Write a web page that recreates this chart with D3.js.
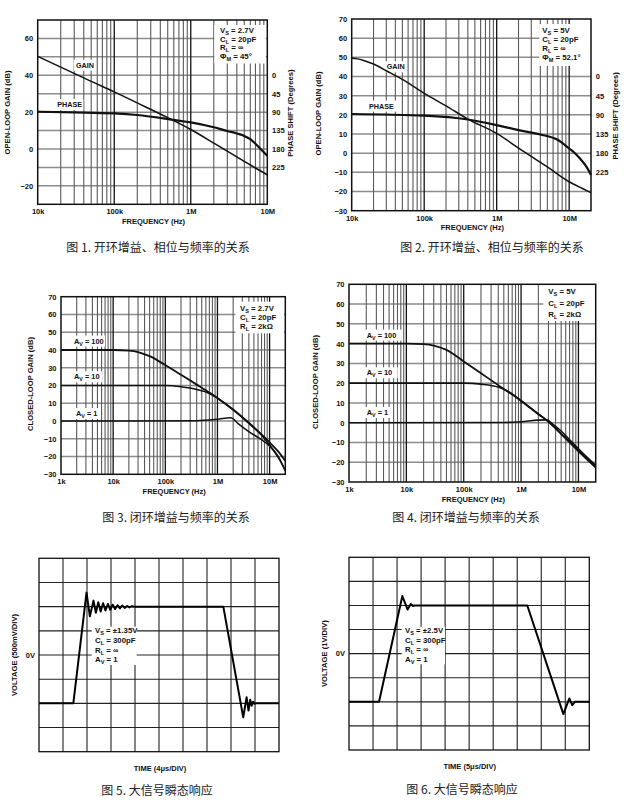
<!DOCTYPE html>
<html><head><meta charset="utf-8">
<script src="https://cdn.jsdelivr.net/npm/d3@7"></script>
<style>body{margin:0;background:#fff}svg{display:block}</style>
</head><body><svg id="c" width="624" height="800"></svg>
<script>
// ---------- DATA ----------
const freqTicks12 = [1e4, 1e5, 1e6, 1e7];
const freqLabels12 = ["10k", "100k", "1M", "10M"];
const freqTicks34 = [1e3, 1e4, 1e5, 1e6, 1e7];
const freqLabels34 = ["1k", "10k", "100k", "1M", "10M"];
const gainTicks1 = [60, 40, 20, 0, -20];
const gainTicksFull = [70, 60, 50, 40, 30, 20, 10, 0, -10, -20, -30];
const phaseTicks = [0, 45, 90, 135, 180, 225];

const fig1Freq = [1e4, 2e4, 5e4, 1e5, 2e5, 5e5, 1e6, 2e6, 3e6, 5e6, 7e6, 1e7];
const fig1Gain = [50.3, 44.4, 36.7, 31.0, 25.0, 17.0, 10.6, 3.2, -1.2, -6.7, -10.3, -14.0];
const fig1PhaseFreq = [1e4, 3e4, 1e5, 2e5, 4e5, 6e5, 1e6, 2e6, 3e6, 4e6, 5e6, 6e6, 7e6, 8e6, 9e6, 1e7];
const fig1Phase = [89, 90.5, 93, 97, 104, 109, 115, 127, 136, 142, 148, 156, 167, 178, 188, 197];

const fig2Freq = [1e4, 1.2e4, 1.5e4, 2e4, 3e4, 5e4, 1e5, 2e5, 4e5, 1e6, 2e6, 3e6, 5e6, 1e7, 1.5e7, 2e7];
const fig2Gain = [49.5, 49.2, 48.2, 46.5, 43, 38.5, 31.2, 24.7, 17.8, 10.3, 2.7, -1.7, -7.2, -14.9, -18.3, -20.6];
const fig2PhaseFreq = [1e4, 1e5, 4e5, 1e6, 2e6, 4e6, 7e6, 1e7, 1.2e7, 1.4e7, 1.7e7, 2e7];
const fig2Phase = [88, 92, 101, 114, 126, 136, 149, 169, 180, 192, 210, 231];

const fig3Freq = [1e3, 1e4, 2e4, 3e4, 5e4, 1e5, 2e5, 4e5, 7e5, 1e6, 2e6, 4e6, 7e6, 1e7, 1.5e7, 2e7];
const fig3Av100 = [40, 40, 39.6, 38.8, 36.5, 31.5, 26, 20.5, 16, 13, 6.5, -1, -7.5, -12, -17.5, -22.5];
const fig3Av10Freq = [1e3, 1e5, 2e5, 4e5, 7e5, 1e6, 2e6, 4e6, 7e6, 1e7, 1.5e7, 2e7];
const fig3Av10 = [20, 20, 19.3, 17.8, 15.5, 12.8, 6.2, -1.3, -8, -13.5, -20.5, -28];
const fig3Av1Freq = [1e3, 4e5, 1e6, 1.8e6, 2.5e6, 4e6, 7e6, 1e7, 1.5e7, 2e7];
const fig3Av1 = [0, 0.2, 1, 1.8, -1.5, -6, -10.5, -14, -21, -28];

const fig4Freq = [1e3, 1e4, 2e4, 3e4, 5e4, 1e5, 2e5, 4e5, 7e5, 1e6, 2e6, 3e6, 5e6, 7e6, 1e7, 2e7];
const fig4Av100 = [40, 40, 39.7, 39, 36.8, 31, 25, 19, 14.2, 11, 4.3, 0.5, -5.5, -9.5, -14, -22.3];
const fig4Av10Freq = [1e3, 1e5, 2e5, 4e5, 7e5, 1e6, 2e6, 3e6, 5e6, 7e6, 1e7, 2e7];
const fig4Av10 = [20, 20, 19.5, 18, 14.6, 11.2, 4.5, 0.6, -5.8, -10, -14.6, -22.7];
const fig4Av1Freq = [1e3, 5e5, 1e6, 2e6, 2.8e6, 3.6e6, 5e6, 7e6, 1e7, 2e7];
const fig4Av1 = [0, 0.1, 0.5, 1.3, 1.4, -0.8, -4.2, -8.6, -13.2, -21.6];

// scope traces: time (divisions), voltage (divisions)
const fig5Time = [0, 1.43, 1.98, 2.12, 2.27, 2.37, 2.47, 2.57, 2.67, 2.77, 2.87, 2.97, 3.07, 3.17, 3.27, 3.37, 3.47, 3.57, 3.67, 3.77, 3.87, 3.97, 7.68, 8.51, 8.65, 8.73, 8.8, 8.86, 8.92, 8.98, 9.05, 10];
const fig5Volt = [-2, -2, 2.58, 1.6, 2.25, 1.75, 2.18, 1.8, 2.14, 1.84, 2.11, 1.87, 2.08, 1.9, 2.06, 1.93, 2.05, 1.95, 2.03, 1.97, 2.02, 2, 2, -2.58, -1.75, -2.3, -1.85, -2.1, -1.93, -2.02, -2, -2];
const fig6Time = [0, 1.25, 2.22, 2.44, 2.57, 2.66, 2.72, 7.42, 8.92, 9.17, 9.29, 9.4, 10];
const fig6Volt = [-2, -2, 2.39, 1.83, 2.06, 1.98, 2, 2, -2.51, -1.86, -2.14, -2, -2];

const notes1 = [["V","S"," = 2.7V"],["C","L"," = 20pF"],["R","L"," = \u221E"],["\u03A6","M"," = 45\u00B0"]];
const notes2 = [["V","S"," = 5V"],["C","L"," = 20pF"],["R","L"," = \u221E"],["\u03A6","M"," = 52.1\u00B0"]];
const notes3 = [["V","S"," = 2.7V"],["C","L"," = 20pF"],["R","L"," = 2k\u03A9"]];
const notes4 = [["V","S"," = 5V"],["C","L"," = 20pF"],["R","L"," = 2k\u03A9"]];
const notes5 = [["V","S"," = \u00B11.35V"],["C","L"," = 300pF"],["R","L"," = \u221E"],["A","V"," = 1"]];
const notes6 = [["V","S"," = \u00B12.5V"],["C","L"," = 300pF"],["R","L"," = \u221E"],["A","V"," = 1"]];
const avLabels = [["A","V"," = 100"],["A","V"," = 10"],["A","V"," = 1"]];

const captions = ["图 1. 开环增益、相位与频率的关系", "图 2. 开环增益、相位与频率的关系",
  "图 3. 闭环增益与频率的关系", "图 4. 闭环增益与频率的关系", "图 5. 大信号瞬态响应", "图 6. 大信号瞬态响应"];

// ---------- DRAW ----------
const svg = d3.select('#c');
const FONT = '"Liberation Sans", Arial, sans-serif';
const minus = v => (v < 0 ? "\u2212" + Math.abs(v) : String(v));

function subText(g, parts, x, y, fs) {
  const t = g.append('text').attr('x', x).attr('y', y).attr('font-family', FONT)
    .attr('font-weight', 'bold').attr('font-size', fs).attr('fill', '#111');
  t.append('tspan').text(parts[0]);
  t.append('tspan').attr('dy', fs * 0.28).attr('font-size', fs * 0.72).text(parts[1]);
  t.append('tspan').attr('dy', -fs * 0.28).text(parts[2]);
  return t;
}
function plain(g, txt, x, y, fs, anchor, rot) {
  const t = g.append('text').attr('font-family', FONT).attr('font-weight', 'bold')
    .attr('font-size', fs).attr('fill', '#111').attr('text-anchor', anchor || 'start').text(txt);
  if (rot) t.attr('transform', `translate(${x},${y}) rotate(${rot})`);
  else t.attr('x', x).attr('y', y);
  return t;
}

function logPanel(c) {
  const g = svg.append('g');
  const x = d3.scaleLog().domain(c.xDomain).range([c.left, c.right]);
  const y = d3.scaleLinear().domain([-30, 70]).range([c.bottom, c.top]);
  g.selectAll('line.h').data(d3.range(-20, 61, 10)).join('line')
    .attr('x1', c.left).attr('x2', c.right).attr('y1', d => y(d)).attr('y2', d => y(d))
    .attr('stroke', '#8c8c8c').attr('stroke-width', 1.5);
  const vs = [];
  for (let d = c.xDomain[0]; d < c.xDomain[1]; d *= 10)
    for (let m = 1; m < 10; m++) {
      const f = m * d;
      if (f > c.xDomain[0] * 1.001 && f < c.xDomain[1] * 0.999) vs.push({ f, major: m === 1 });
    }
  g.selectAll('line.v').data(vs).join('line')
    .attr('x1', d => x(d.f)).attr('x2', d => x(d.f)).attr('y1', c.top).attr('y2', c.bottom)
    .attr('stroke', d => d.major ? '#111' : '#5a5a5a').attr('stroke-width', d => d.major ? 1.3 : 1.1);
  g.append('rect').attr('x', c.box[0]).attr('y', c.box[1]).attr('width', c.box[2]).attr('height', c.box[3]).attr('fill', '#fff');
  (c.labels || []).forEach(l => {
    g.append('rect').attr('x', l.x - 2).attr('y', l.y - 8).attr('width', l.w).attr('height', 11).attr('fill', '#fff');
  });
  const line = d3.line().x(d => x(d[0])).y(d => d[2] ? d[2](d[1]) : y(d[1])).curve(d3.curveMonotoneX);
  c.curves.forEach(cv => {
    const pts = cv.f.map((f, i) => [f, cv.v[i], cv.scale]);
    g.append('path').attr('d', line(pts)).attr('fill', 'none').attr('stroke', '#111')
      .attr('stroke-width', cv.w || 1.8).attr('stroke-linejoin', 'round');
  });
  g.append('rect').attr('x', c.left).attr('y', c.top).attr('width', c.right - c.left).attr('height', c.bottom - c.top)
    .attr('fill', 'none').attr('stroke', '#111').attr('stroke-width', 1.5);
  const ax = g.append('g').attr('transform', `translate(${c.left},0)`)
    .call(d3.axisLeft(y).tickValues(c.yTicks).tickSize(0).tickPadding(4.5).tickFormat(minus));
  ax.select('.domain').remove();
  const bx = g.append('g').attr('transform', `translate(0,${c.bottom})`)
    .call(d3.axisBottom(x).tickValues(c.xTicks).tickSize(0).tickPadding(4.8).tickFormat((d, i) => c.xLabels[i]));
  bx.select('.domain').remove();
  [ax, bx].forEach(a => a.selectAll('text').attr('font-family', FONT).attr('font-weight', 'bold')
    .attr('font-size', 7.5).attr('fill', '#111'));
  if (c.phase) {
    const yp = d3.scaleLinear().domain([-135, 315]).range([c.top, c.bottom]);
    const rx = g.append('g').attr('transform', `translate(${c.right},0)`)
      .call(d3.axisRight(yp).tickValues(phaseTicks).tickSize(0).tickPadding(4.8));
    rx.select('.domain').remove();
    rx.selectAll('text').attr('font-family', FONT).attr('font-weight', 'bold').attr('font-size', 7.5).attr('fill', '#111');
    plain(g, 'PHASE SHIFT (Degrees)', c.phaseTitleX, (c.top + c.bottom) / 2 + 1, 7.6, 'middle', -90);
  }
  plain(g, 'FREQUENCY (Hz)', (c.left + c.right) / 2 + 1, c.bottom + 19.5, 7.5, 'middle');
  plain(g, c.yTitle, c.yTitleX, c.yTitleY, 7.6, 'middle', -90);
  c.notes.forEach((n, i) => subText(g, n, c.noteX, c.noteY[i], 7.8));
  (c.labels || []).forEach(l => {
    if (l.parts) subText(g, l.parts, l.x, l.y, 7.4);
    else plain(g, l.text, l.x, l.y, 7.2);
  });
}

function phaseCurve(f, v, top, bottom) {
  return { f, v, w: 2.2, scale: d3.scaleLinear().domain([-135, 315]).range([top, bottom]) };
}
function build1() {
  const top = 20, bottom = 204.3;
  logPanel({
    xDomain: [1e4, 1e7], left: 37.7, right: 267.3, top, bottom,
    yTicks: gainTicks1, xTicks: freqTicks12, xLabels: freqLabels12, phase: true, phaseTitleX: 293,
    yTitle: 'OPEN-LOOP GAIN (dB)', yTitleX: 9.5, yTitleY: 112.5,
    box: [214.3, 25, 51.5, 38.5], notes: notes1, noteX: 220, noteY: [32.6, 41.6, 50.3, 59.3],
    labels: [{ text: 'GAIN', x: 76, y: 67.7, w: 22 }, { text: 'PHASE', x: 57.3, y: 107, w: 28 }],
    curves: [{ f: fig1Freq, v: fig1Gain, w: 1.5 }, phaseCurve(fig1PhaseFreq, fig1Phase, top, bottom)]
  });
}
function build2() {
  const top = 19, bottom = 210.7;
  logPanel({
    xDomain: [1e4, 2e7], left: 351.7, right: 591, top, bottom,
    yTicks: gainTicksFull, xTicks: freqTicks12, xLabels: freqLabels12, phase: true, phaseTitleX: 618,
    yTitle: 'OPEN-LOOP GAIN (dB)', yTitleX: 321.3, yTitleY: 113.5,
    box: [539.3, 24, 51.7, 42], notes: notes2, noteX: 542.3, noteY: [32.8, 41.8, 51.3, 60],
    labels: [{ text: 'GAIN', x: 386.7, y: 69.3, w: 22 }, { text: 'PHASE', x: 369, y: 108.6, w: 30 }],
    curves: [{ f: fig2Freq, v: fig2Gain, w: 1.5 }, phaseCurve(fig2PhaseFreq, fig2Phase, top, bottom)]
  });
}
function build3() {
  logPanel({
    xDomain: [1e3, 2e7], left: 61, right: 285.3, top: 296.7, bottom: 474.3,
    yTicks: gainTicksFull, xTicks: freqTicks34, xLabels: freqLabels34,
    yTitle: 'CLOSED-LOOP GAIN (dB)', yTitleX: 32.5, yTitleY: 384,
    box: [235.5, 301.7, 48.5, 31.6], notes: notes3, noteX: 240, noteY: [310.5, 319.5, 328.5],
    labels: [{ parts: avLabels[0], x: 74, y: 343.6, w: 33 }, { parts: avLabels[1], x: 74, y: 379.3, w: 30 },
             { parts: avLabels[2], x: 76, y: 416, w: 24 }],
    curves: [{ f: fig3Freq, v: fig3Av100 }, { f: fig3Av10Freq, v: fig3Av10, w: 1.5 }, { f: fig3Av1Freq, v: fig3Av1, w: 1.5 }]
  });
}
function build4() {
  logPanel({
    xDomain: [1e3, 2e7], left: 349, right: 595.7, top: 284.3, bottom: 482,
    yTicks: gainTicksFull, xTicks: freqTicks34, xLabels: freqLabels34,
    yTitle: 'CLOSED-LOOP GAIN (dB)', yTitleX: 318, yTitleY: 382,
    box: [543.3, 285, 52, 36], notes: notes4, noteX: 548.3, noteY: [294.3, 306, 316.5],
    labels: [{ parts: avLabels[0], x: 366.7, y: 337.6, w: 37 }, { parts: avLabels[1], x: 366.7, y: 375.3, w: 33 },
             { parts: avLabels[2], x: 366.7, y: 415, w: 27 }],
    curves: [{ f: fig4Freq, v: fig4Av100 }, { f: fig4Av10Freq, v: fig4Av10, w: 1.6 }, { f: fig4Av1Freq, v: fig4Av1, w: 1.6 }]
  });
}

function scopePanel(c) {
  const g = svg.append('g');
  const x = d3.scaleLinear().domain([0, 10]).range([c.left, c.right]);
  const y = d3.scaleLinear().domain([-4, 4]).range([c.bottom, c.top]);
  g.selectAll('line.v').data(d3.range(1, 10)).join('line')
    .attr('x1', d => x(d)).attr('x2', d => x(d)).attr('y1', c.top).attr('y2', c.bottom)
    .attr('stroke', '#222').attr('stroke-width', 1.1);
  g.selectAll('line.h').data(d3.range(-3, 4)).join('line')
    .attr('y1', d => y(d)).attr('y2', d => y(d)).attr('x1', c.left).attr('x2', c.right)
    .attr('stroke', '#222').attr('stroke-width', 1.1);
  g.append('rect').attr('x', c.box[0]).attr('y', c.box[1]).attr('width', c.box[2]).attr('height', c.box[3]).attr('fill', '#fff');
  g.append('rect').attr('x', c.left).attr('y', c.top).attr('width', c.right - c.left).attr('height', c.bottom - c.top)
    .attr('fill', 'none').attr('stroke', '#111').attr('stroke-width', 1.3);
  const pts = c.t.map((t, i) => [t, c.v[i]]);
  g.append('path').attr('d', d3.line().x(d => x(d[0])).y(d => y(d[1]))(pts))
    .attr('fill', 'none').attr('stroke', '#000').attr('stroke-width', 2).attr('stroke-linejoin', 'round');
  plain(g, '0V', c.left - 4, y(0) + 2.7, 7.5, 'end');
  plain(g, c.yTitle, c.yTitleX, (c.top + c.bottom) / 2, 7.6, 'middle', -90);
  plain(g, c.xTitle, c.xTitleX, c.xTitleY, 7.5, 'middle');
  c.notes.forEach((n, i) => subText(g, n, c.noteX, c.noteY[i], 7.8));
}

build1(); build2(); build3(); build4();
scopePanel({ left: 39, right: 279, top: 558.3, bottom: 751.7, t: fig5Time, v: fig5Volt,
  yTitle: 'VOLTAGE (500mV/DIV)', yTitleX: 17, xTitle: 'TIME (4\u03BCs/DIV)', xTitleX: 160, xTitleY: 771,
  box: [91.7, 626.7, 45, 38.3], notes: notes5, noteX: 95, noteY: [633.3, 643, 652.7, 662.3] });
scopePanel({ left: 349, right: 589.3, top: 557.3, bottom: 750, t: fig6Time, v: fig6Volt,
  yTitle: 'VOLTAGE (1V/DIV)', yTitleX: 327, xTitle: 'TIME (5\u03BCs/DIV)', xTitleX: 469.7, xTitleY: 769.3,
  box: [401.7, 626.7, 43.3, 37.6], notes: notes6, noteX: 405, noteY: [633.3, 642.7, 652, 661.7] });

const capPos = [[158, 252], [492, 252], [176, 522], [466, 522], [157, 795], [462, 794]];
svg.selectAll('text.cap').data(captions).join('text').attr('class', 'cap')
  .attr('x', (d, i) => capPos[i][0]).attr('y', (d, i) => capPos[i][1])
  .attr('text-anchor', 'middle').attr('font-family', '"Noto Sans CJK SC", sans-serif')
  .attr('font-size', 12).attr('fill', '#222').text(d => d);
</script></body></html>
